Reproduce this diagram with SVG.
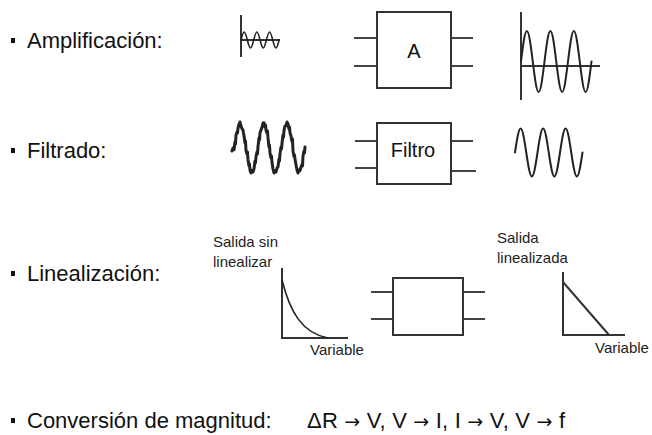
<svg xmlns="http://www.w3.org/2000/svg" width="652" height="435" viewBox="0 0 652 435">
<style>
.lbl{font-family:"Liberation Sans",Arial,sans-serif;font-size:22px;fill:#111}
.arr{font-family:"DejaVu Sans",sans-serif;font-size:19px}
.sm{font-family:"Liberation Sans",Arial,sans-serif;font-size:15px;fill:#222}
.box{fill:#fff;stroke:#333;stroke-width:2}
.lead{stroke:#444;stroke-width:2;fill:none}
.ax{stroke:#333;stroke-width:2;fill:none}
.wave{fill:none;stroke:#222;stroke-linejoin:round;stroke-linecap:round}
.btxt{font-family:"Liberation Sans",Arial,sans-serif;font-size:20px;fill:#111;text-anchor:middle}
.bul{fill:#111}
</style>
<rect width="652" height="435" fill="#fff"/>

<g id="row-amplificacion">
  <rect class="bul" x="11" y="38" width="4" height="5"/>
  <text class="lbl" x="27" y="48">Amplificación:</text>
  <g id="amp-input">
    <path class="ax" d="M241,15 V57" stroke-width="1.8"/>
    <path class="ax" d="M241,40 H280" stroke-width="1.5"/>
    <path class="wave" stroke-width="1.6" d="M241,40 c1.036,-4.098 2.026,-8 3.175,-8 s2.139,3.902 3.175,8 s2.026,8 3.175,8 s2.139,-3.902 3.175,-8 s2.026,-8 3.175,-8 s2.139,3.902 3.175,8 s2.026,8 3.175,8 s2.139,-3.902 3.175,-8 s2.026,-8 3.175,-8 s2.139,3.902 3.175,8 s2.026,8 3.175,8 s2.139,-3.902 3.175,-8"/>
  </g>
  <g id="amp-block">
    <path class="lead" d="M354,38 H377 M354,66 H377 M451,38 H473 M451,66 H473"/>
    <rect class="box" x="377" y="12" width="74" height="76"/>
    <text class="btxt" x="414" y="58">A</text>
  </g>
  <g id="amp-output">
    <path class="ax" d="M521,12 V100"/>
    <path class="ax" d="M521,66 H600"/>
    <path class="wave" stroke-width="2" d="M521,61.5 c1.916,-15.63 3.749,-30.5 5.875,-30.5 s3.959,14.87 5.875,30.5 s3.749,30.5 5.875,30.5 s3.959,-14.87 5.875,-30.5 s3.749,-30.5 5.875,-30.5 s3.959,14.87 5.875,30.5 s3.749,30.5 5.875,30.5 s3.959,-14.87 5.875,-30.5 s3.749,-30.5 5.875,-30.5 s3.959,14.87 5.875,30.5 s3.749,30.5 5.875,30.5 s3.959,-14.87 5.875,-30.5"/>
  </g>
</g>

<g id="row-filtrado">
  <rect class="bul" x="11" y="148" width="4" height="5"/>
  <text class="lbl" x="27" y="158">Filtrado:</text>
  <g id="filt-input">
    <polyline class="wave" stroke="#111" stroke-width="3" points="232,151 233,148 234,149.8 235,142 235.5,144 236,135 237,132 237.5,133 238,128.3 239,124 239.5,126 240,122 241,126 242,128.8 243,130 243.5,133 244,135.5 245,143 245.5,141 246,150.3 247,154 247.5,152 248,159.9 249,166 249.5,164 250,170.4 251,173 252,170.4 253,172 254,168.8 255,161 255.5,163 256,156.6 257,152 257.5,154 258,146.6 259,138 259.5,140 260,132.8 261,130 262,127.4 263,123 264,122.7 265,127 265.5,125 266,130.2 267,133 267.5,131 268,137.9 269,147 269.5,145 270,153 271,158 271.5,156 272,162.5 273,169 274,173 275,171 276,172 277,168 278,166.8 279,159 279.5,161 280,153.6 281,147 281.5,149 282,143.4 283,135 283.5,137 284,130.3 285,126 286,125.8 287,122 288,124 289,129 289.5,127 290,132.8 291,136 292,141.4 292.5,139 293,151 294,156.6 294.5,155 295,159 296,164.8 297,170 298,173 299,170 300,170.5 301,167 302,164.5 302.5,166 303,156 304,151 304.5,153 305,147"/>
  </g>
  <g id="filt-block">
    <path class="lead" d="M355,141 H377 M355,168 H377 M451,141 H473 M451,171 H476"/>
    <rect class="box" x="377" y="123" width="74" height="61"/>
    <text class="btxt" x="413" y="157" font-size="19">Filtro</text>
  </g>
  <g id="filt-output">
    <path class="wave" stroke="#333" stroke-width="2" d="M515,152.5 c1.835,-12.295 3.589,-24 5.625,-24 s3.790,11.705 5.625,24 s3.589,24 5.625,24 s3.790,-11.705 5.625,-24 s3.589,-24 5.625,-24 s3.790,11.705 5.625,24 s3.589,24 5.625,24 s3.790,-11.705 5.625,-24 s3.589,-24 5.625,-24 s3.790,11.705 5.625,24 s3.589,24 5.625,24 s3.790,-11.705 5.625,-24"/>
  </g>
</g>

<g id="row-linealizacion">
  <rect class="bul" x="11" y="271" width="4" height="5"/>
  <text class="lbl" x="27" y="281">Linealización:</text>
  <g id="lin-input">
    <text class="sm" x="213" y="247">Salida sin</text>
    <text class="sm" x="213" y="267">linealizar</text>
    <path class="ax" d="M282,268 V338 H348"/>
    <path class="wave" stroke="#333" stroke-width="1.6" d="M282,280 C290,312 302,333 328,338"/>
    <text class="sm" x="310" y="355">Variable</text>
  </g>
  <g id="lin-block">
    <path class="lead" d="M371,292 H393 M371,319 H393 M463,292 H485 M463,319 H485"/>
    <rect class="box" x="393" y="278" width="70" height="57"/>
  </g>
  <g id="lin-output">
    <text class="sm" x="497" y="243">Salida</text>
    <text class="sm" x="497" y="263">linealizada</text>
    <path class="ax" d="M563,272 V335 H625"/>
    <path class="ax" stroke-width="1.6" d="M563,282 L609,335"/>
    <text class="sm" x="595" y="353">Variable</text>
  </g>
</g>

<g id="row-conversion">
  <rect class="bul" x="11" y="418" width="4" height="5"/>
  <text class="lbl" x="27" y="428">Conversión de magnitud:</text>
  <text class="lbl" x="307" y="428" textLength="258" lengthAdjust="spacing">ΔR <tspan class="arr">→</tspan> V, V <tspan class="arr">→</tspan> I, I <tspan class="arr">→</tspan> V, V <tspan class="arr">→</tspan> f</text>
</g>
</svg>
